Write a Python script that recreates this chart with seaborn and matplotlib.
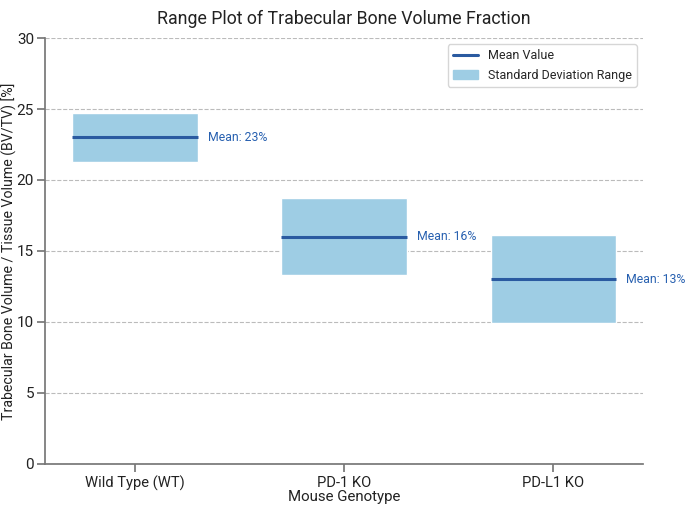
import numpy as np
import seaborn as sns
import matplotlib.pyplot as plt
from matplotlib.lines import Line2D
from matplotlib.patches import Patch

# Data
genotypes = ["Wild Type (WT)", "PD-1 KO", "PD-L1 KO"]
mean_bvtv = [23, 16, 13]
sd_low = [21.3, 13.3, 9.9]
sd_high = [24.7, 18.7, 16.1]

sns.set_theme(style="ticks", rc={"axes.edgecolor": "#777777",
                                 "xtick.color": "#777777",
                                 "ytick.color": "#777777",
                                 "xtick.labelcolor": "#222222",
                                 "ytick.labelcolor": "#222222"})
plt.rcParams['font.family'] = ['Roboto', 'DejaVu Sans']

fig, ax = plt.subplots(figsize=(6.85, 5.07), dpi=100)

x = np.arange(len(genotypes))
width = 0.6
box_color = "#9ecde4"
line_color = "#2a5aa0"

heights = np.array(sd_high) - np.array(sd_low)
ax.bar(x, heights, bottom=sd_low, width=width, color=box_color, zorder=2)
ax.hlines(mean_bvtv, x - width / 2, x + width / 2, color=line_color, linewidth=2.2, zorder=3)

for xi, m in zip(x, mean_bvtv):
    ax.text(xi + width / 2 + 0.05, m, f"Mean: {m}%", color="#2760b0",
            va="center", ha="left", fontsize=8.8)

ax.set_xticks(x)
ax.set_xticklabels(genotypes, fontsize=10.6)
ax.set_ylim(0, 30)
ax.tick_params(axis='y', labelsize=11, pad=2)
ax.tick_params(axis='x', pad=2.5)
ax.grid(axis='y', linestyle='--', color='#bbbbbb', linewidth=0.8, zorder=0)
ax.set_axisbelow(True)
sns.despine(ax=ax)

ax.set_xlabel("Mouse Genotype", fontsize=10.8, color="#222222")
ax.set_ylabel("Trabecular Bone Volume / Tissue Volume (BV/TV) [%]", fontsize=10.2,
              color="#222222")
ax.xaxis.set_label_coords(0.5, -0.062)
ax.yaxis.set_label_coords(-0.048, 0.5)
ax.set_title("Range Plot of Trabecular Bone Volume Fraction", fontsize=12.8, pad=10, color="#222222")

handles = [Line2D([0], [0], color=line_color, linewidth=2.2, label="Mean Value"),
           Patch(color=box_color, label="Standard Deviation Range")]
ax.legend(handles=handles, loc="upper right", fontsize=9, frameon=True)

fig.subplots_adjust(left=0.066, right=0.939, top=0.925, bottom=0.085)
fig.savefig("out.png", dpi=100)
